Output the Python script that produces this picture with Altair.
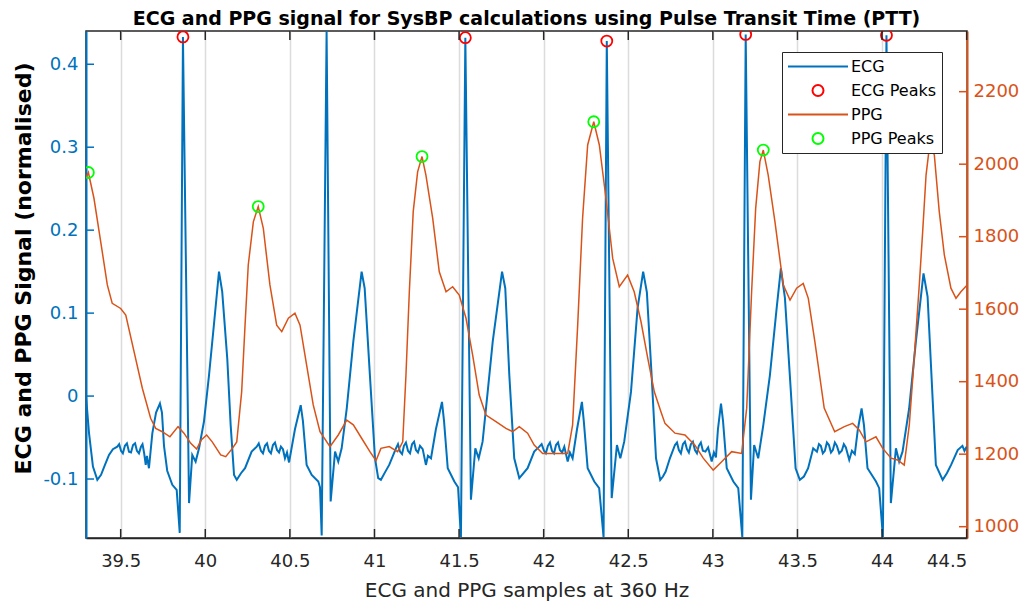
import altair as alt
import pandas as pd

# ---------------- data ----------------
ecg_t = [39.295, 39.313, 39.336, 39.362, 39.384, 39.407, 39.431, 39.454, 39.480, 39.502,
         39.525, 39.549, 39.573, 39.596, 39.620, 39.638, 39.648, 39.655, 39.667, 39.687,
         39.709, 39.732, 39.744, 39.756, 39.775, 39.805, 39.831, 39.849, 39.868, 39.904,
         39.923, 39.943, 39.963, 39.992, 40.022, 40.051, 40.081, 40.100, 40.130, 40.150,
         40.170, 40.186, 40.211, 40.235, 40.274, 40.304, 40.329, 40.353, 40.376, 40.400,
         40.424, 40.447, 40.459, 40.471, 40.483, 40.495, 40.530, 40.564, 40.577, 40.599,
         40.629, 40.668, 40.678, 40.688, 40.717, 40.741, 40.767, 40.786, 40.806, 40.836,
         40.875, 40.924, 40.942, 40.973, 41.003, 41.022, 41.038, 41.062, 41.087, 41.127,
         41.151, 41.174, 41.198, 41.222, 41.245, 41.269, 41.285, 41.304, 41.316, 41.334,
         41.363, 41.399, 41.411, 41.433, 41.472, 41.494, 41.511, 41.537, 41.570, 41.596,
         41.616, 41.639, 41.669, 41.699, 41.754, 41.773, 41.797, 41.826, 41.856, 41.905,
         41.944, 41.974, 42.002, 42.025, 42.049, 42.073, 42.096, 42.122, 42.142, 42.155,
         42.171, 42.197, 42.226, 42.237, 42.260, 42.299, 42.328, 42.354, 42.373, 42.402,
         42.433, 42.453, 42.476, 42.516, 42.555, 42.588, 42.610, 42.638, 42.664, 42.689,
         42.705, 42.721, 42.746, 42.776, 42.799, 42.823, 42.847, 42.870, 42.894, 42.917,
         42.941, 42.972, 42.993, 43.006, 43.018, 43.030, 43.048, 43.060, 43.082, 43.121,
         43.150, 43.174, 43.194, 43.225, 43.244, 43.268, 43.298, 43.337, 43.377, 43.402,
         43.426, 43.461, 43.489, 43.514, 43.538, 43.563, 43.593, 43.615, 43.638, 43.662,
         43.686, 43.709, 43.733, 43.762, 43.786, 43.806, 43.822, 43.839, 43.857, 43.879,
         43.893, 43.914, 43.964, 43.983, 44.005, 44.026, 44.052, 44.082, 44.101, 44.121,
         44.160, 44.200, 44.245, 44.269, 44.292, 44.318, 44.358, 44.383, 44.408, 44.447,
         44.500]
ecg_v = [0.000, -0.045, -0.085, -0.101, -0.095, -0.083, -0.071, -0.064, -0.061, -0.066,
         -0.060, -0.067, -0.059, -0.066, -0.061, -0.068, -0.083, -0.072, -0.087, -0.045,
         -0.020, -0.009, -0.020, -0.060, -0.090, -0.107, -0.113, -0.165, 0.433, -0.129,
         -0.071, -0.079, -0.063, -0.031, 0.025, 0.086, 0.150, 0.126, 0.045, -0.035,
         -0.095, -0.101, -0.093, -0.087, -0.067, -0.061, -0.066, -0.060, -0.066, -0.059,
         -0.065, -0.061, -0.064, -0.075, -0.068, -0.080, -0.040, -0.011, -0.030, -0.083,
         -0.095, -0.103, -0.110, -0.168, 0.440, -0.127, -0.067, -0.079, -0.063, -0.015,
         0.066, 0.150, 0.130, 0.025, -0.075, -0.099, -0.101, -0.092, -0.083, -0.063,
         -0.067, -0.060, -0.066, -0.058, -0.065, -0.060, -0.064, -0.083, -0.072, -0.075,
         -0.040, -0.007, -0.030, -0.087, -0.103, -0.110, -0.170, 0.432, -0.125, -0.063,
         -0.075, -0.055, 0.005, 0.066, 0.150, 0.130, 0.025, -0.075, -0.099, -0.087,
         -0.067, -0.061, -0.066, -0.060, -0.066, -0.059, -0.065, -0.061, -0.079, -0.068,
         -0.075, -0.040, -0.007, -0.030, -0.087, -0.103, -0.111, -0.170, 0.428, -0.123,
         -0.059, -0.075, -0.055, 0.005, 0.106, 0.150, 0.125, 0.025, -0.075, -0.101,
         -0.097, -0.091, -0.075, -0.059, -0.065, -0.058, -0.064, -0.058, -0.065, -0.060,
         -0.066, -0.062, -0.079, -0.068, -0.074, -0.040, -0.009, -0.030, -0.087, -0.103,
         -0.111, -0.170, 0.436, -0.125, -0.059, -0.075, -0.035, 0.025, 0.106, 0.154,
         0.118, 0.005, -0.087, -0.101, -0.097, -0.087, -0.063, -0.067, -0.060, -0.066,
         -0.059, -0.065, -0.060, -0.066, -0.062, -0.077, -0.066, -0.070, -0.040, -0.015,
         -0.035, -0.087, -0.103, -0.111, -0.170, 0.435, -0.129, -0.063, -0.079, -0.067,
         -0.015, 0.066, 0.148, 0.120, 0.025, -0.083, -0.101, -0.093, -0.083, -0.065,
         -0.061]
# extra hand-read points of the fuzzy (noisy) baseline between beats
ecg_fuzz_t = [39.491, 39.513, 39.537, 39.561, 39.585, 39.608, 39.629,
              40.316, 40.341, 40.365, 40.388, 40.412, 40.436,
              41.139, 41.163, 41.186, 41.210, 41.234, 41.257,
              41.988, 42.013, 42.037, 42.061, 42.085, 42.109,
              42.788, 42.811, 42.835, 42.858, 42.882, 42.906, 42.929, 42.956,
              43.627, 43.650, 43.674, 43.698, 43.721, 43.747, 43.774,
              44.475, 44.487]
ecg_fuzz_v = [-0.058, -0.069, -0.057, -0.068, -0.057, -0.069, -0.058,
              -0.057, -0.069, -0.057, -0.069, -0.056, -0.068,
              -0.058, -0.070, -0.056, -0.069, -0.055, -0.068,
              -0.058, -0.069, -0.056, -0.069, -0.056, -0.068,
              -0.056, -0.069, -0.055, -0.068, -0.055, -0.069, -0.056, -0.067,
              -0.058, -0.069, -0.056, -0.068, -0.056, -0.069, -0.058,
              -0.060, -0.066]

ppg_t = [39.295, 39.309, 39.342, 39.382, 39.421, 39.450, 39.500, 39.530, 39.579, 39.628,
         39.677, 39.707, 39.746, 39.791, 39.839, 39.874, 39.914, 39.949, 39.976, 40.008,
         40.041, 40.091, 40.121, 40.160, 40.186, 40.215, 40.235, 40.254, 40.284, 40.313,
         40.343, 40.382, 40.422, 40.452, 40.491, 40.530, 40.560, 40.599, 40.638, 40.678,
         40.737, 40.786, 40.836, 40.875, 40.924, 40.973, 41.009, 41.038, 41.087, 41.137,
         41.167, 41.186, 41.206, 41.229, 41.255, 41.281, 41.304, 41.344, 41.383, 41.423,
         41.462, 41.501, 41.541, 41.580, 41.619, 41.659, 41.718, 41.777, 41.817, 41.856,
         41.905, 41.944, 41.994, 42.063, 42.142, 42.171, 42.201, 42.230, 42.260, 42.296,
         42.329, 42.368, 42.408, 42.447, 42.496, 42.535, 42.575, 42.615, 42.654, 42.693,
         42.717, 42.776, 42.835, 42.894, 42.943, 43.002, 43.052, 43.111, 43.170, 43.200,
         43.229, 43.253, 43.278, 43.298, 43.327, 43.367, 43.416, 43.456, 43.495, 43.534,
         43.564, 43.603, 43.658, 43.720, 43.777, 43.826, 43.865, 43.905, 43.964, 44.004,
         44.053, 44.092, 44.131, 44.161, 44.190, 44.220, 44.240, 44.260, 44.283, 44.309,
         44.338, 44.368, 44.407, 44.437, 44.466, 44.500]
ppg_v = [1962, 1977, 1906, 1786, 1667, 1616, 1602, 1584, 1483, 1382,
         1299, 1271, 1262, 1248, 1276, 1258, 1230, 1214, 1239, 1253,
         1234, 1198, 1193, 1216, 1234, 1372, 1556, 1722, 1841, 1883,
         1823, 1667, 1556, 1538, 1575, 1589, 1556, 1446, 1336, 1262,
         1221, 1253, 1294, 1281, 1244, 1207, 1182, 1216, 1221, 1207,
         1234, 1418, 1648, 1869, 1979, 2021, 1970, 1851, 1703, 1648,
         1662, 1639, 1575, 1474, 1363, 1308, 1290, 1271, 1262, 1276,
         1258, 1225, 1202, 1202, 1202, 1281, 1556, 1851, 2053, 2117,
         2053, 1906, 1740, 1662, 1694, 1648, 1566, 1465, 1372, 1317,
         1285, 1258, 1253, 1225, 1189, 1156, 1179, 1207, 1202, 1327,
         1648, 1878, 2007, 2039, 1970, 1841, 1667, 1625, 1658, 1671,
         1630, 1510, 1327, 1262, 1276, 1285, 1267, 1234, 1248, 1216,
         1189, 1184, 1170, 1281, 1465, 1667, 1814, 1970, 2060, 2025,
         1869, 1750, 1658, 1630, 1648, 1665]

ecg_peak_t = [39.868, 41.537, 42.373, 43.194, 44.026]
ecg_peak_v = [0.433, 0.432, 0.428, 0.436, 0.435]
ppg_peak_t = [39.309, 40.313, 41.281, 42.296, 43.298]
ppg_peak_v = [1977, 1883, 2021, 2117, 2039]

series_names = ["ECG", "ECG Peaks", "PPG", "PPG Peaks"]
x_ticks = [39.5, 40, 40.5, 41, 41.5, 42, 42.5, 43, 43.5, 44, 44.5]
ecg_ticks = [-0.1, 0, 0.1, 0.2, 0.3, 0.4]
ppg_ticks = [1000, 1200, 1400, 1600, 1800, 2000, 2200]

x_domain = [39.295, 44.502]
ecg_domain = [-0.1711, 0.4401]
ppg_domain = [968.8, 2367.4]

# ---------------- styling ----------------
W, H = 881, 507
FONT = "DejaVu Sans"
BLUE = "#0072BD"
ORANGE = "#D95319"
DARK = "#262626"

ecg_df = pd.concat([
    pd.DataFrame({"t": ecg_t, "v": ecg_v}),
    pd.DataFrame({"t": ecg_fuzz_t, "v": ecg_fuzz_v}),
]).sort_values("t").reset_index(drop=True)
ecg_df["series"] = "ECG"
ppg_df = pd.DataFrame({"t": ppg_t, "v": ppg_v, "series": "PPG"})
ecg_pk = pd.DataFrame({"t": ecg_peak_t, "v": ecg_peak_v, "series": "ECG Peaks"})
ppg_pk = pd.DataFrame({"t": ppg_peak_t, "v": ppg_peak_v, "series": "PPG Peaks"})

x_scale = alt.Scale(domain=x_domain, nice=False, zero=False)
ecg_scale = alt.Scale(domain=ecg_domain, nice=False, zero=False)
ppg_scale = alt.Scale(domain=ppg_domain, nice=False, zero=False)

color_scale = alt.Scale(domain=series_names, range=[BLUE, "#FF0000", ORANGE, "#00FF00"])
shape_scale = alt.Scale(domain=series_names, range=["stroke", "circle", "stroke", "circle"])
size_scale = alt.Scale(type="ordinal", domain=series_names, range=[3600, 121, 3600, 121])

leg = alt.Legend(title=None, orient="none", legendX=696, legendY=21, clipHeight=19)

x_axis = alt.Axis(values=x_ticks, format=".1~f",
                  grid=True, gridColor="#dcdcdc", gridWidth=1.5,
                  ticks=False, domainColor=DARK, domainWidth=1.5,
                  labelFont=FONT, labelFontSize=18, labelColor=DARK, labelPadding=14,
                  title="ECG and PPG samples at 360 Hz", titleFont=FONT, titleFontSize=20,
                  titleFontWeight="normal", titleColor=DARK, titleY=52, titleBaseline="middle")

ecg_axis = alt.Axis(values=ecg_ticks,
                    labelExpr="datum.value < 0 ? '-' + format(-datum.value, '.1~f') : format(datum.value, '.1~f')",
                    grid=False, ticks=False, domainColor=BLUE, domainWidth=2,
                    labelFont=FONT, labelFontSize=18, labelColor=BLUE, labelPadding=8,
                    title="ECG and PPG Signal (normalised)", titleFont=FONT, titleFontSize=22,
                    titleFontWeight="bold", titleColor="black", titleAngle=270,
                    titleX=-63, titleY=237, titleBaseline="middle", titleAlign="center")

ppg_axis = alt.Axis(values=ppg_ticks, format="d", orient="right",
                    grid=False, ticks=False, domainColor=ORANGE, domainWidth=2,
                    labelFont=FONT, labelFontSize=18, labelColor=ORANGE, labelPadding=6,
                    title=None)

X = alt.X("t:Q", scale=x_scale, axis=x_axis)
Y_ECG = alt.Y("v:Q", scale=ecg_scale, axis=ecg_axis)
Y_PPG = alt.Y("v:Q", scale=ppg_scale, axis=ppg_axis)
C = alt.Color("series:N", scale=color_scale, legend=leg)
S = alt.Shape("series:N", scale=shape_scale, legend=leg)
Z = alt.Size("series:N", scale=size_scale, legend=leg)

ecg_line = alt.Chart(ecg_df).mark_line(strokeWidth=2, clip=True).encode(x=X, y=Y_ECG, color=C)
ecg_pts = alt.Chart(ecg_pk).mark_point(filled=False, strokeWidth=1.8, opacity=1, clip=True).encode(
    x=X, y=Y_ECG, color=C, shape=S, size=Z)
bottom_ticks = alt.Chart(pd.DataFrame({"t": x_ticks})).mark_rule(color=DARK, strokeWidth=1.5).encode(
    x=X, y=alt.value(H), y2=alt.value(H - 9))
top_ticks = alt.Chart(pd.DataFrame({"t": x_ticks})).mark_rule(color=DARK, strokeWidth=1.5).encode(
    x=X, y=alt.value(0), y2=alt.value(9))
left_ticks = alt.Chart(pd.DataFrame({"v": ecg_ticks})).mark_rule(color=BLUE, strokeWidth=1.5).encode(
    y=Y_ECG, x=alt.value(0), x2=alt.value(8))

ppg_line = alt.Chart(ppg_df).mark_line(strokeWidth=1.5, clip=True).encode(x=X, y=Y_PPG, color=C)
ppg_pts = alt.Chart(ppg_pk).mark_point(filled=False, strokeWidth=1.8, opacity=1, clip=True).encode(
    x=X, y=Y_PPG, color=C, shape=S, size=Z)
right_ticks = alt.Chart(pd.DataFrame({"v": ppg_ticks})).mark_rule(color=ORANGE, strokeWidth=1.5).encode(
    y=Y_PPG, x=alt.value(W), x2=alt.value(W - 8))

ecg_group = alt.layer(ecg_line, ecg_pts, bottom_ticks, top_ticks, left_ticks)
ppg_group = alt.layer(ppg_line, ppg_pts, right_ticks)

chart = alt.layer(ecg_group, ppg_group).resolve_scale(y="independent").properties(
    width=W, height=H,
    title=alt.TitleParams(
        text="ECG and PPG signal for SysBP calculations using Pulse Transit Time (PTT)",
        font=FONT, fontSize=19, fontWeight="bold", color="black",
        anchor="middle", frame="group", baseline="bottom", offset=0, dy=18),
    autosize=alt.AutoSizeParams(type="none"),
    padding={"left": 86, "top": 31, "right": 60, "bottom": 66},
    background="white",
).configure_view(
    stroke=DARK, strokeWidth=1.5
).configure_legend(
    fillColor="white", strokeColor=DARK, strokeWidth=1, padding=5,
    labelFont=FONT, labelFontSize=16, labelColor="black", labelOffset=2,
    symbolStrokeWidth=2, rowPadding=5, cornerRadius=0,
)

chart.save("out.html", embed_options={"renderer": "svg", "actions": False})
